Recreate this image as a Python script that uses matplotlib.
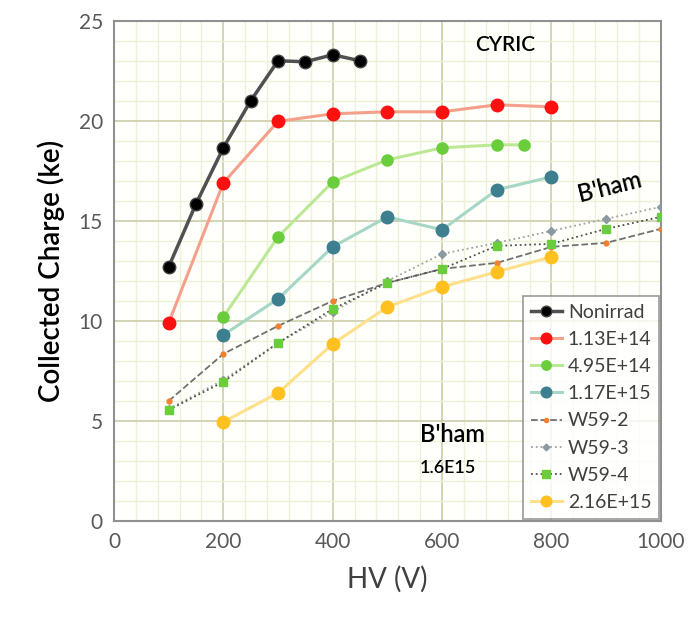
import matplotlib
matplotlib.use("Agg")
import matplotlib.pyplot as plt
from matplotlib.ticker import MultipleLocator

plt.rcParams['font.family'] = ['Lato', 'DejaVu Sans']

hv_nonirrad = [100, 150, 200, 250, 300, 350, 400, 450]
q_nonirrad = [12.7, 15.85, 18.65, 21.0, 23.0, 22.95, 23.3, 23.0]

hv_113 = [100, 200, 300, 400, 500, 600, 700, 800]
q_113 = [9.9, 16.9, 19.97, 20.35, 20.45, 20.45, 20.8, 20.7]

hv_495 = [200, 300, 400, 500, 600, 700, 750]
q_495 = [10.2, 14.2, 16.95, 18.05, 18.65, 18.8, 18.8]

hv_117 = [200, 300, 400, 500, 600, 700, 800]
q_117 = [9.3, 11.1, 13.7, 15.2, 14.55, 16.55, 17.2]

hv_w59 = [100, 200, 300, 400, 500, 600, 700, 800, 900, 1000]
q_w59_2 = [6.0, 8.35, 9.75, 11.0, 11.9, 12.6, 12.9, 13.7, 13.9, 14.6]
q_w59_3 = [5.6, 7.05, 8.9, 10.45, 12.0, 13.35, 13.9, 14.5, 15.1, 15.7]
q_w59_4 = [5.55, 6.95, 8.9, 10.6, 11.9, 12.6, 13.75, 13.85, 14.6, 15.2]

hv_216 = [200, 300, 400, 500, 600, 700, 800]
q_216 = [4.95, 6.4, 8.85, 10.7, 11.7, 12.45, 13.2]

fig = plt.figure(figsize=(6.92, 6.23), dpi=100)
ax = fig.add_axes([0.1647, 0.1637, 0.7903, 0.803])
ax.set_facecolor('#fffffc')

ax.plot(hv_nonirrad, q_nonirrad, '-o', color='#505050', lw=2.5, ms=9,
        mfc='black', mec='#404040', label='Nonirrad', zorder=5)
ax.plot(hv_113, q_113, '-o', color='#f5a08a', lw=2.2, ms=9,
        mfc='#ff1010', mec='#ff1010', label='1.13E+14', zorder=5)
ax.plot(hv_495, q_495, '-o', color='#bce894', lw=2.2, ms=8,
        mfc='#6acd3c', mec='#6acd3c', label='4.95E+14', zorder=5)
ax.plot(hv_117, q_117, '-o', color='#a6d6c6', lw=2.2, ms=9,
        mfc='#3d7f8e', mec='#3d7f8e', label='1.17E+15', zorder=5)
ax.plot(hv_w59, q_w59_2, '--o', color='#707070', lw=1.3, ms=3.5,
        mfc='#f08030', mec='#f08030', label='W59-2', zorder=4)
ax.plot(hv_w59, q_w59_3, ':D', color='#a0a0a0', lw=1.3, ms=4,
        mfc='#8a9aa0', mec='#8a9aa0', label='W59-3', zorder=4)
ax.plot(hv_w59, q_w59_4, ':s', color='#505050', lw=1.3, ms=6,
        mfc='#6acd3c', mec='#6acd3c', label='W59-4', zorder=4)
ax.plot(hv_216, q_216, '-o', color='#ffe08a', lw=2.2, ms=9,
        mfc='#ffc020', mec='#ffc020', label='2.16E+15', zorder=5)

ax.set_xlim(0, 1000)
ax.set_ylim(0, 25)
ax.xaxis.set_major_locator(MultipleLocator(200))
ax.xaxis.set_minor_locator(MultipleLocator(40))
ax.yaxis.set_major_locator(MultipleLocator(5))
ax.yaxis.set_minor_locator(MultipleLocator(1))
ax.grid(which='major', color='#d0d0b0', lw=1.3, zorder=0)
ax.grid(which='minor', color='#eef0d8', lw=1.0, zorder=0)
ax.set_axisbelow(True)
ax.tick_params(which='both', length=0, labelsize=15, labelcolor='#595959', pad=8)
for s in ax.spines.values():
    s.set_color('#909090')
    s.set_linewidth(1.5)

ax.set_xlabel('HV (V)', fontsize=20, color='#404040', labelpad=10)
ax.set_ylabel('Collected Charge (ke)', fontsize=20, color='black', labelpad=10,
              fontweight='semibold')

ax.text(715, 23.8, 'CYRIC', fontsize=15, ha='center', va='center', color='black',
        fontweight='semibold')
ax.text(907, 16.7, "B'ham", fontsize=17, ha='center', va='center', rotation=14,
        color='black', fontweight='semibold')
ax.text(560, 4.3, "B'ham", fontsize=17, ha='left', va='center', color='black',
        fontweight='semibold')
ax.text(560, 2.65, "1.6E15", fontsize=13, ha='left', va='center', color='black',
        fontweight='semibold')

leg = ax.legend(loc='lower right', bbox_to_anchor=(0.997, 0.005), fontsize=14,
                frameon=True, fancybox=False, edgecolor='#808080',
                handlelength=1.6, handletextpad=0.3, labelspacing=0.52,
                borderpad=0.4, borderaxespad=0.0, labelcolor='#404040',
                markerscale=0.85)
leg.get_frame().set_linewidth(1.2)
leg.get_frame().set_facecolor('white')

fig.savefig('out.png', dpi=100, facecolor='white')
